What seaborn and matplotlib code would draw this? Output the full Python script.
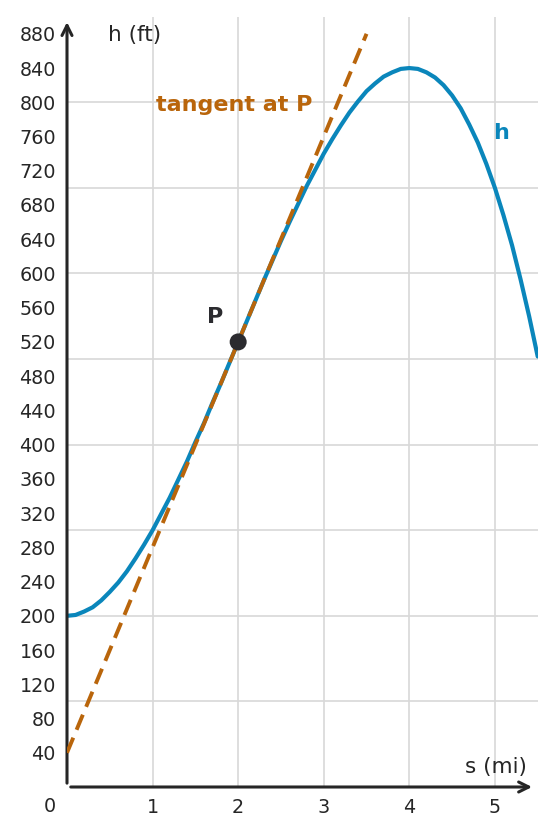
import numpy as np
import pandas as pd
import matplotlib
matplotlib.use("Agg")
import matplotlib.pyplot as plt
import seaborn as sns

# ---- data ----
s_vals = [0.0, 0.1, 0.2, 0.3, 0.4, 0.5, 0.6, 0.7, 0.8, 0.9,
          1.0, 1.1, 1.2, 1.3, 1.4, 1.5, 1.6, 1.7, 1.8, 1.9,
          2.0, 2.1, 2.2, 2.3, 2.4, 2.5, 2.6, 2.7, 2.8, 2.9,
          3.0, 3.1, 3.2, 3.3, 3.4, 3.5, 3.6, 3.7, 3.8, 3.9,
          4.0, 4.1, 4.2, 4.3, 4.4, 4.5, 4.6, 4.7, 4.8, 4.9,
          5.0, 5.1, 5.2, 5.3, 5.4, 5.5]
h_vals = [200, 201, 205, 210, 218, 228, 239, 252, 267, 283,
          300, 319, 338, 359, 380, 403, 425, 449, 472, 496,
          520, 544, 568, 592, 615, 638, 660, 681, 702, 721,
          740, 757, 773, 788, 801, 813, 822, 830, 835, 839,
          840, 839, 835, 829, 820, 808, 793, 774, 753, 728,
          700, 668, 633, 593, 550, 503]
tangent_s = [0, 3.5]
tangent_h = [40, 880]
point_s = [2]
point_h = [520]
y_ticks = [40, 80, 120, 160, 200, 240, 280, 320, 360, 400, 440, 480, 520,
           560, 600, 640, 680, 720, 760, 800, 840, 880]
x_ticks = [1, 2, 3, 4, 5]
y_grid = [100, 200, 300, 400, 500, 600, 700, 800]
x_grid = [1, 2, 3, 4, 5]

BLUE = "#0a86bb"
ORANGE = "#b9650b"
DARK = "#2b2b2f"
TXT = "#262626"
GRID = "#d8d8d8"

sns.set_theme(style="white")
plt.rcParams['font.family'] = ['DejaVu Sans']

fig = plt.figure(figsize=(5.55, 8.36), dpi=100)
ax = fig.add_axes([67/555, 1-787/836, (537.7-67)/555, (787-16.7)/836])

curve = pd.DataFrame({"s": s_vals, "h": h_vals})
tan = pd.DataFrame({"s": tangent_s, "h": tangent_h})
pt = pd.DataFrame({"s": point_s, "h": point_h})

for g in x_grid:
    ax.axvline(g, color=GRID, lw=1.2, zorder=0)
for g in y_grid:
    ax.axhline(g, color=GRID, lw=1.2, zorder=0)

sns.lineplot(data=curve, x="s", y="h", ax=ax, color=BLUE, lw=3.0, zorder=3)
sns.lineplot(data=tan, x="s", y="h", ax=ax, color=ORANGE, lw=2.8,
             zorder=4).lines[-1].set_dashes([4.2, 2.2])
sns.scatterplot(data=pt, x="s", y="h", ax=ax, color=DARK, s=150,
                edgecolor="none", zorder=5)

ax.set_xlim(0, 5.5)
ax.set_ylim(0, 900)
ax.set_xlabel("")
ax.set_ylabel("")

ax.set_xticks(x_ticks)
ax.set_yticks(y_ticks)
ax.tick_params(axis="both", which="major", direction="in", length=5, width=2,
               color=TXT, labelsize=13.8, labelcolor=TXT)
ax.tick_params(axis="y", which="major", pad=8)
ax.tick_params(axis="x", which="major", pad=8)
ax.grid(False)

for sp in ax.spines.values():
    sp.set_visible(False)

# axis arrows
ax.annotate("", xy=(0, 0.993), xytext=(0, 0.005), xycoords="axes fraction",
            arrowprops=dict(arrowstyle="->,head_length=0.6,head_width=0.3",
                            color=TXT, lw=2.2, shrinkA=0, shrinkB=0))
ax.annotate("", xy=(0.988, 0.0), xytext=(0.008, 0.0), xycoords="axes fraction",
            arrowprops=dict(arrowstyle="->,head_length=0.6,head_width=0.3",
                            color=TXT, lw=2.2, shrinkA=0, shrinkB=0))

ax.text(-0.2, -23, "0", ha="center", va="center", fontsize=13.8, color=TXT,
        clip_on=False)
ax.text(0.48, 879, "h (ft)", ha="left", va="center", fontsize=15.5, color=TXT)
ax.text(5.375, 23, "s (mi)", ha="right", va="center", fontsize=15.5, color=TXT)
ax.text(1.04, 797, "tangent at P", ha="left", va="center", fontsize=16,
        color=ORANGE, fontweight="bold")
ax.text(1.73, 549, "P", ha="center", va="center", fontsize=16,
        color=DARK, fontweight="bold")
ax.text(5.07, 764, "h", ha="center", va="center", fontsize=16,
        color=BLUE, fontweight="bold")

fig.savefig("out.png", dpi=100)
